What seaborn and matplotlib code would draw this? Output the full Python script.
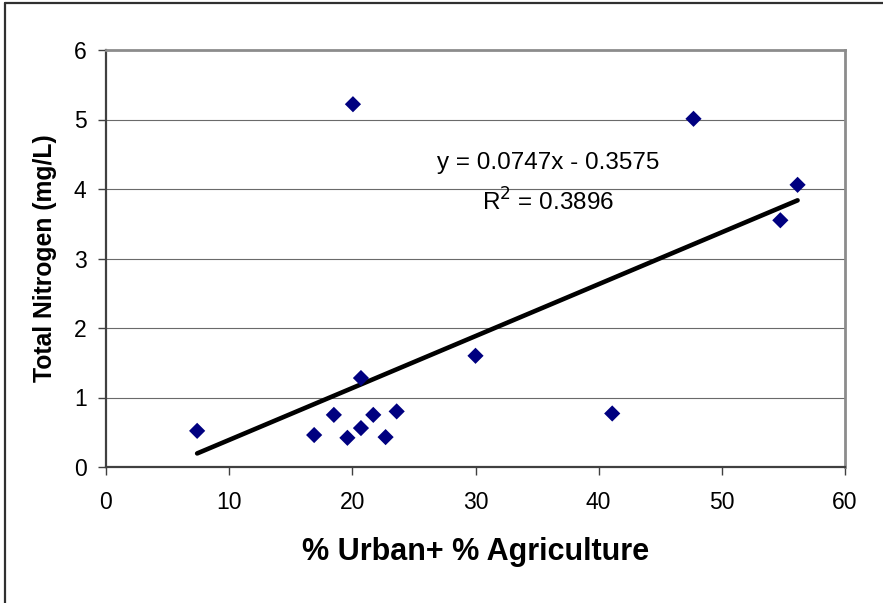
"""Total Nitrogen vs % Urban + % Agriculture, scatter with linear trend."""

import numpy as np
import pandas as pd
import matplotlib
matplotlib.use("Agg")
import matplotlib.pyplot as plt
from matplotlib.lines import Line2D
import seaborn as sns

# Data
pct_urban_ag = [7.4, 16.9, 18.5, 19.6, 20.05, 20.7, 20.7, 21.7, 22.7, 23.6,
                30.0, 41.1, 47.7, 54.75, 56.15]
total_nitrogen = [0.52, 0.46, 0.75, 0.42, 5.22, 1.28, 0.56, 0.75, 0.43, 0.80,
                  1.60, 0.77, 5.01, 3.55, 4.06]

slope = 0.0747
intercept = -0.3575
r_squared = 0.3896

x_ticks = [0, 10, 20, 30, 40, 50, 60]
y_ticks = [0, 1, 2, 3, 4, 5, 6]

df = pd.DataFrame({"x": pct_urban_ag, "y": total_nitrogen})
x_fit = np.array([min(pct_urban_ag), max(pct_urban_ag)])
fit_df = pd.DataFrame({"x": x_fit, "y": slope * x_fit + intercept})

sns.set_theme(style="white")
plt.rcParams["font.family"] = ["Liberation Sans", "DejaVu Sans"]
plt.rcParams["text.color"] = "black"
plt.rcParams["axes.labelcolor"] = "black"

W, H = 883, 603
fig = plt.figure(figsize=(W / 100, H / 100), dpi=100)
ax = fig.add_axes([106 / W, 1 - 467 / H, (845 - 106) / W, (467 - 50) / H])

# gridlines
for yv in y_ticks[1:-1]:
    ax.axhline(yv, color="#6a6a6a", lw=0.8, zorder=0)

sns.lineplot(data=fit_df, x="x", y="y", ax=ax, color="black", lw=3.3,
             solid_capstyle="round", zorder=2)
sns.scatterplot(data=df, x="x", y="y", ax=ax, marker="D", s=68,
                color="#000080", edgecolor="none", zorder=3)

ax.set_xlim(0, 60)
ax.set_ylim(0, 6)
ax.set_xticks(x_ticks)
ax.set_yticks(y_ticks)
ax.tick_params(axis="both", labelsize=16.5, labelcolor="black", length=6,
               width=1.0, direction="out", color="#404040")
ax.tick_params(axis="x", pad=11)
ax.tick_params(axis="y", pad=8)
ax.xaxis.set_ticks_position("bottom")
ax.yaxis.set_ticks_position("left")

for side in ["left", "bottom"]:
    ax.spines[side].set_color("#404040")
    ax.spines[side].set_linewidth(1.6)
for side in ["top", "right"]:
    ax.spines[side].set_color("#8c8c8c")
    ax.spines[side].set_linewidth(2.0)

ax.set_xlabel("% Urban+ % Agriculture", fontsize=22, fontweight="bold",
              labelpad=17)
ax.set_ylabel("Total Nitrogen (mg/L)", fontsize=17.8, fontweight="bold",
              labelpad=12)

ax.text(0.598, 0.728, f"y = {slope}x - {abs(intercept)}",
        transform=ax.transAxes, ha="center", va="center", fontsize=17.5)
ax.text(0.598, 0.635, f"R$^2$ = {r_squared}", transform=ax.transAxes,
        ha="center", va="center", fontsize=17.5)

# outer chart border
fig.add_artist(Line2D([5 / W, 1], [1 - 3 / H, 1 - 3 / H],
                      transform=fig.transFigure, color="#303030", lw=1.6))
fig.add_artist(Line2D([5 / W, 5 / W], [0, 1 - 3 / H],
                      transform=fig.transFigure, color="#303030", lw=1.6))

fig.savefig("out.png", dpi=100, facecolor="white")
